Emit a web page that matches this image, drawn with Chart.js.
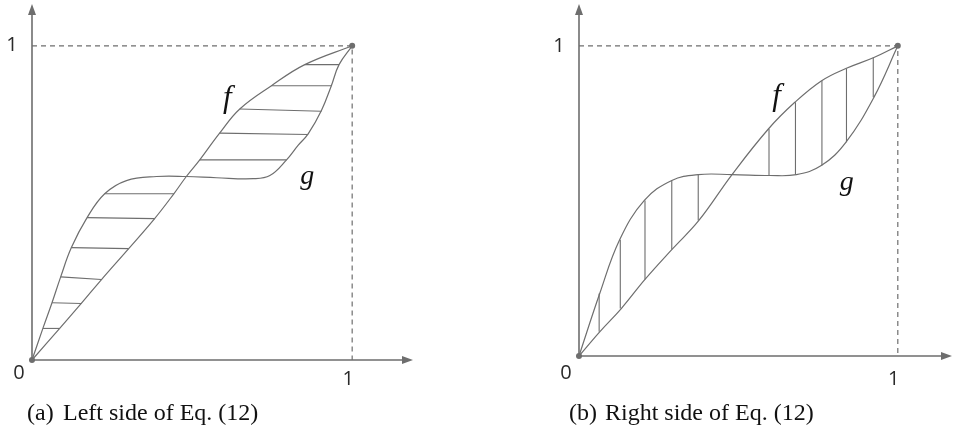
<!DOCTYPE html>
<html>
<head>
<meta charset="utf-8">
<script src="https://cdn.jsdelivr.net/npm/chart.js@4"></script>
<style>
  body { margin: 0; background: #fff; }
  .wrap { position: relative; width: 956px; height: 430px; overflow: hidden; }
  canvas { position: absolute; top: 0; }
</style>
</head>
<body>
<div class="wrap">
  <canvas id="chartA" width="478" height="430" style="left:0"></canvas>
  <canvas id="chartB" width="478" height="430" style="left:478px"></canvas>
</div>
<script>
// panel (a): curves f and g
const fLeft = [[0,0],[0.0865,0.1005],[0.154,0.18],[0.217,0.256],[0.302,0.3545],[0.383,0.45],[0.443,0.529],[0.482,0.584],[0.524,0.637],[0.586,0.722],[0.649,0.799],[0.748,0.873],[0.852,0.94],[1,1]];
const gLeft = [[0,0],[0.034,0.1005],[0.0625,0.182],[0.0896,0.2646],[0.123,0.3577],[0.172,0.453],[0.227,0.529],[0.295,0.571],[0.389,0.584],[0.482,0.584],[0.576,0.58],[0.691,0.577],[0.743,0.587],[0.795,0.637],[0.831,0.683],[0.8625,0.7196],[0.904,0.794],[0.935,0.873],[0.959,0.94],[1,1]];
// horizontal hatching: [x1, y1, x2, y2]
const hatchLeft = [
  [0.034,0.1005,0.0865,0.1005],[0.0625,0.182,0.154,0.18],[0.0896,0.2646,0.2167,0.256],
  [0.123,0.3577,0.302,0.3545],[0.172,0.453,0.383,0.45],[0.227,0.529,0.443,0.529],
  [0.524,0.637,0.795,0.637],[0.586,0.722,0.8625,0.7175],[0.649,0.799,0.904,0.7915],
  [0.748,0.873,0.935,0.873],[0.852,0.94,0.959,0.94]
];

// panel (b)
const fRight = [[0,0],[0.065,0.078],[0.1326,0.153],[0.207,0.247],[0.291,0.343],[0.376,0.437],[0.48,0.585],[0.594,0.732],[0.677,0.818],[0.76,0.887],[0.837,0.927],[0.925,0.9625],[1,1]];
const gRight = [[0,0],[0.065,0.2015],[0.1275,0.375],[0.205,0.5016],[0.291,0.566],[0.374,0.585],[0.48,0.585],[0.599,0.582],[0.682,0.585],[0.76,0.614],[0.837,0.689],[0.925,0.834],[1,1]];
// vertical hatching: [x, yTop, yBottom]
const hatchRight = [
  [0.0632,0.2015,0.078],[0.1295,0.375,0.153],[0.207,0.5016,0.2465],[0.291,0.566,0.343],[0.374,0.585,0.437],
  [0.596,0.732,0.582],[0.679,0.818,0.585],[0.762,0.8875,0.614],[0.839,0.927,0.689],[0.923,0.9625,0.834]
];

const tickLabels = ['0', '1'];
const captionTags = ['(a)', '(b)'];
const captions = ['Left side of Eq. (12)', 'Right side of Eq. (12)'];

const GRAY = '#6e6e6e';

const toPts = arr => arr.map(p => ({ x: p[0], y: p[1] }));

function lineDs(points, extra) {
  return Object.assign({
    type: 'scatter',
    data: points,
    showLine: true,
    borderColor: GRAY,
    borderWidth: 1.2,
    pointRadius: 0,
    fill: false,
    clip: false
  }, extra || {});
}

function arrowHead(ctx, x, y, dir) {
  ctx.beginPath();
  if (dir === 'up') {
    ctx.moveTo(x, y); ctx.lineTo(x - 4, y + 11); ctx.lineTo(x + 4, y + 11);
  } else {
    ctx.moveTo(x, y); ctx.lineTo(x - 11, y - 4); ctx.lineTo(x - 11, y + 4);
  }
  ctx.closePath();
  ctx.fill();
}

function makePanel(id, cfg) {
  const datasets = [];
  datasets.push(lineDs(toPts([[0,1],[1,1],[1,0]]), { borderDash: [5, 4], borderWidth: 1.2, tension: 0 }));
  datasets.push(lineDs(toPts(cfg.f), { tension: 0.4 }));
  datasets.push(lineDs(toPts(cfg.g), { tension: 0.4 }));
  cfg.hatch.forEach(h => {
    const pts = h.length === 4 ? [[h[0], h[1]], [h[2], h[3]]] : [[h[0], h[1]], [h[0], h[2]]];
    datasets.push(lineDs(toPts(pts), { borderWidth: 1.1 }));
  });
  datasets.push({
    type: 'scatter', data: toPts([[0,0],[1,1]]),
    pointRadius: 3, pointBackgroundColor: GRAY, pointBorderWidth: 0, clip: false
  });

  const decor = {
    id: 'decor',
    beforeDatasetsDraw(chart) {
      const { ctx, chartArea: a, scales: { x, y } } = chart;
      const x0 = x.getPixelForValue(0), y0 = y.getPixelForValue(0);
      ctx.save();
      ctx.strokeStyle = GRAY; ctx.fillStyle = GRAY; ctx.lineWidth = 1.6;
      ctx.beginPath();
      ctx.moveTo(x0, y0); ctx.lineTo(x0, a.top + 4);
      ctx.moveTo(x0, y0); ctx.lineTo(a.right - 4, y0);
      ctx.stroke();
      arrowHead(ctx, x0, a.top, 'up');
      arrowHead(ctx, a.right, y0, 'right');
      ctx.restore();
    },
    afterDraw(chart) {
      const { ctx, scales: { x, y } } = chart;
      const x0 = x.getPixelForValue(0), y0 = y.getPixelForValue(0);
      const x1 = x.getPixelForValue(1), y1 = y.getPixelForValue(1);
      ctx.save();
      ctx.fillStyle = '#2a2a2a';
      ctx.textAlign = 'center'; ctx.textBaseline = 'middle';
      ctx.font = '20px "Open Sans"';
      ctx.fillText(tickLabels[1], x0 - 20, y1);
      ctx.fillText(tickLabels[0], x0 - 13, y0 + cfg.zeroDy);
      ctx.fillText(tickLabels[1], x1 - 4, y0 + cfg.oneDy);
      ctx.fillStyle = '#111';
      ctx.font = 'italic 31px "Liberation Serif"';
      ctx.fillText('f', x.getPixelForValue(cfg.fLab[0]), y.getPixelForValue(cfg.fLab[1]));
      ctx.font = 'italic 28px "Liberation Serif"';
      ctx.fillText('g', x.getPixelForValue(cfg.gLab[0]), y.getPixelForValue(cfg.gLab[1]));
      ctx.textAlign = 'left'; ctx.textBaseline = 'alphabetic';
      ctx.font = '24px "Liberation Serif"';
      ctx.fillText(cfg.tag, cfg.capX, 420);
      ctx.fillText(cfg.caption, cfg.capX + 36, 420);
      ctx.restore();
    }
  };

  return new Chart(document.getElementById(id), {
    type: 'scatter',
    data: { datasets },
    options: {
      responsive: false,
      animation: false,
      layout: { padding: cfg.padding },
      plugins: { legend: { display: false }, tooltip: { enabled: false } },
      scales: {
        x: { type: 'linear', min: 0, max: cfg.xMax, display: false },
        y: { type: 'linear', min: 0, max: cfg.yMax, display: false }
      }
    },
    plugins: [decor]
  });
}

makePanel('chartA', {
  f: fLeft, g: gLeft, hatch: hatchLeft,
  xMax: 1.19, yMax: 1.133,
  padding: { left: 32, right: 65, top: 3, bottom: 70 },
  zeroDy: 13, oneDy: 19,
  fLab: [0.61, 0.83], gLab: [0.86, 0.585],
  tag: captionTags[0], caption: captions[0], capX: 27
});

makePanel('chartB', {
  f: fRight, g: gRight, hatch: hatchRight,
  xMax: 1.17, yMax: 1.135,
  padding: { left: 101, right: 1, top: 3, bottom: 74 },
  zeroDy: 17, oneDy: 23,
  fLab: [0.62, 0.835], gLab: [0.84, 0.56],
  tag: captionTags[1], caption: captions[1], capX: 91
});
</script>
</body>
</html>
